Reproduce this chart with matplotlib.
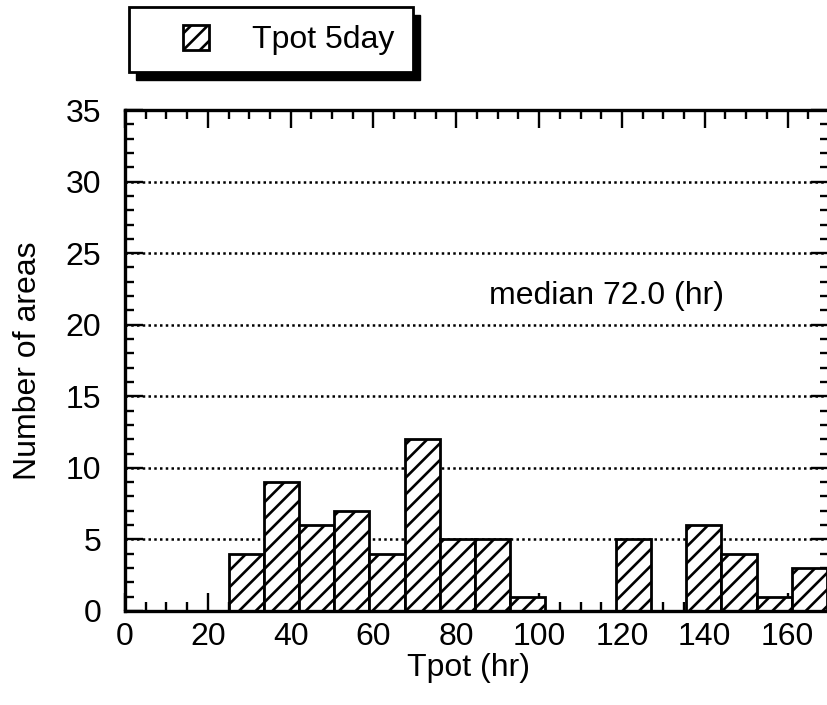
import matplotlib
matplotlib.use("Agg")
import matplotlib.pyplot as plt
from matplotlib.patches import Rectangle
from matplotlib.ticker import MultipleLocator

# ---- data ----
bin_left = [25.0, 33.5, 42.0, 50.5, 59.0, 67.5, 76.0, 84.5, 93.0, 101.5,
            110.0, 118.5, 127.0, 135.5, 144.0, 152.5, 161.0]
bin_width = 8.5
counts = [4, 9, 6, 7, 4, 12, 5, 5, 1, 0, 0, 5, 0, 6, 4, 1, 3]
series_label = "Tpot 5day"
median_text = "median 72.0 (hr)"
x_label = "Tpot (hr)"
y_label = "Number of areas"

plt.rcParams['font.family'] = ['Liberation Sans', 'DejaVu Sans']
plt.rcParams['hatch.linewidth'] = 1.9

FS = 23
W, H = 828, 705
fig = plt.figure(figsize=(W / 100, H / 100), dpi=100)
ax = fig.add_axes([125 / W, (H - 611) / H, 704 / W, 501 / H])

ax.set_xlim(0, 170)
ax.set_ylim(0, 35)

ax.yaxis.grid(True, which='major', linestyle=(0, (1, 1.3)), color='black', linewidth=1.8, zorder=0)
ax.set_axisbelow(True)

ax.bar(bin_left, counts, width=bin_width, align='edge', facecolor='white',
       edgecolor='black', linewidth=2.0, hatch='//', zorder=3, label=series_label)

ax.xaxis.set_major_locator(MultipleLocator(20))
ax.xaxis.set_minor_locator(MultipleLocator(5))
ax.yaxis.set_major_locator(MultipleLocator(5))
ax.yaxis.set_minor_locator(MultipleLocator(1))
ax.tick_params(which='both', direction='in', top=True, right=True, width=1.7,
               labelsize=FS)
ax.tick_params(which='major', length=13)
ax.tick_params(which='minor', length=6.5)
ax.tick_params(axis='y', which='major', pad=17)
ax.tick_params(axis='x', which='major', pad=8)
for s in ax.spines.values():
    s.set_linewidth(2.4)
    s.set_zorder(5)

ax.set_xlabel(x_label, fontsize=FS)
ax.xaxis.set_label_coords(0.488, -0.083)
ax.set_ylabel(y_label, fontsize=FS)
ax.yaxis.set_label_coords(-0.117, 0.5)

ax.text(88, 22.0, median_text, fontsize=FS, ha='left', va='center')

# legend box with shadow
bx0, by0, bx1, by1 = 129, 7, 413, 72
fig.patches.append(Rectangle(((bx0 + 7) / W, (H - by1 - 8) / H), (bx1 - bx0) / W, (by1 - by0) / H,
                             transform=fig.transFigure, facecolor='black', edgecolor='black', zorder=1))
fig.patches.append(Rectangle((bx0 / W, (H - by1) / H), (bx1 - bx0) / W, (by1 - by0) / H,
                             transform=fig.transFigure, facecolor='white', edgecolor='black',
                             linewidth=2.0, zorder=2))
handles, labels = ax.get_legend_handles_labels()
leg = fig.legend(handles, labels, loc='center left', bbox_to_anchor=(183 / W, 1 - 40 / H),
                 frameon=False, fontsize=FS, borderpad=0, borderaxespad=0,
                 handlelength=0.82, handleheight=0.82, handletextpad=1.35)
leg.set_zorder(3)

fig.savefig("out.png", dpi=100)
